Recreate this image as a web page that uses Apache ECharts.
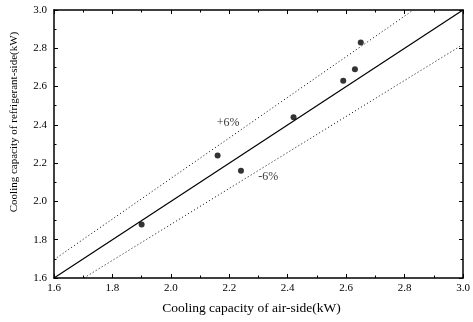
<!DOCTYPE html>
<html>
<head>
<meta charset="utf-8">
<script src="https://cdn.jsdelivr.net/npm/echarts@6/dist/echarts.min.js"></script>
<style>
html,body{margin:0;padding:0;background:#fff;}
#chart{width:473px;height:322px;}
</style>
</head>
<body>
<div id="chart"></div>
<script>
// Measured cooling capacities (kW)
const airSide = [1.90, 2.16, 2.24, 2.42, 2.59, 2.63, 2.65];
const refrigerantSide = [1.88, 2.24, 2.16, 2.44, 2.63, 2.69, 2.83];

// Axis range and tick labels
const axisMin = 1.6, axisMax = 3.0, tickStep = 0.2;
const tickLabels = ['1.6', '1.8', '2.0', '2.2', '2.4', '2.6', '2.8', '3.0'];

// Deviation band (+/- 6 %)
const deviation = 0.06;
const bandLabels = ['+6%', '-6%'];

const font = 'Liberation Serif';

const points = airSide.map((x, i) => [x, refrigerantSide[i]]);
const equalLine = [[axisMin, axisMin], [axisMax, axisMax]];
const upperLine = [[axisMin, axisMin * (1 + deviation)], [axisMax / (1 + deviation), axisMax]];
const lowerLine = [[axisMin / (1 - deviation), axisMin], [axisMax, axisMax * (1 - deviation)]];

function axis(dim, pos, withLabels) {
  const isX = dim === 'x';
  return {
    type: 'value',
    position: pos,
    min: axisMin, max: axisMax, interval: tickStep,
    name: withLabels ? (isX ? 'Cooling capacity of air-side(kW)' : 'Cooling capacity of refrigerant-side(kW)') : '',
    nameLocation: 'middle',
    nameGap: isX ? 23 : 34,
    nameTextStyle: {
      fontFamily: font, fontSize: isX ? 13.5 : 11, color: '#000',
      padding: isX ? [0, 14, 0, 0] : [0, 0, 0, 44]
    },
    axisLine: { show: true, onZero: false, lineStyle: { color: '#000', width: 1.5 } },
    axisTick: { show: true, inside: true, length: 4, lineStyle: { color: '#000', width: 1 } },
    minorTick: { show: true, splitNumber: 2, length: 2.5, lineStyle: { color: '#000', width: 1 } },
    splitLine: { show: false },
    axisLabel: {
      show: withLabels, margin: isX ? 5 : 7,
      fontFamily: font, fontSize: 11, color: '#000',
      formatter: v => tickLabels[Math.round((v - axisMin) / tickStep)]
    }
  };
}

const chart = echarts.init(document.getElementById('chart'));
chart.setOption({
  animation: false,
  grid: { left: 54, right: 10, top: 10, bottom: 44, outerBoundsMode: 'none', containLabel: false },
  xAxis: [axis('x', 'bottom', true), axis('x', 'top', false)],
  yAxis: [axis('y', 'left', true), axis('y', 'right', false)],
  series: [
    {
      type: 'line', data: equalLine, symbol: 'none',
      lineStyle: { color: '#000', width: 1.2 }
    },
    {
      type: 'line', data: upperLine, symbol: 'none',
      lineStyle: { color: '#000', width: 1, type: [1, 2.5] }
    },
    {
      type: 'line', data: lowerLine, symbol: 'none',
      lineStyle: { color: '#000', width: 1, type: [1, 2.5] }
    },
    {
      type: 'scatter', data: points, symbol: 'circle', symbolSize: 6,
      itemStyle: { color: '#000' }
    },
    {
      type: 'scatter', symbolSize: 0,
      data: [
        { value: [2.196, 2.41], label: { formatter: bandLabels[0] } },
        { value: [2.333, 2.127], label: { formatter: bandLabels[1] } }
      ],
      label: { show: true, position: 'inside', fontFamily: font, fontSize: 12, color: '#000' }
    }
  ]
});
</script>
</body>
</html>
